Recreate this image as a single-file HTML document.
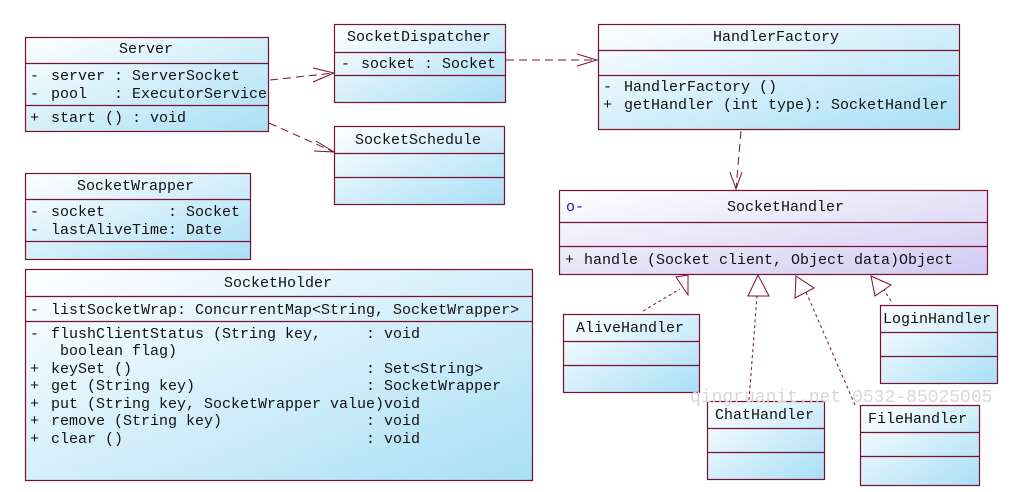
<!DOCTYPE html>
<html><head><meta charset="utf-8"><style>
html,body{margin:0;padding:0;background:#fff;width:1010px;height:492px;overflow:hidden}
svg text{font-family:"Liberation Mono",monospace;font-size:15px;fill:#111;white-space:pre}
</style></head><body>
<svg width="1010" height="492" xmlns="http://www.w3.org/2000/svg" xml:space="preserve">
<defs>
<linearGradient id="b" x1="0" y1="0" x2="1" y2="1"><stop offset="0" stop-color="#ffffff"/><stop offset="1" stop-color="#a9dff6"/></linearGradient>
<linearGradient id="p" x1="0" y1="0" x2="1" y2="1"><stop offset="0" stop-color="#ffffff"/><stop offset="1" stop-color="#d2caf2"/></linearGradient>
</defs>
<g stroke="#7a1030" stroke-width="1.2" fill="url(#b)">
<rect x="25.5" y="37.5" width="243" height="94"/><path d="M25 63.5H268M25 105.5H268"/>
<rect x="334.5" y="24.5" width="171" height="78"/><path d="M334 52.5H505M334 75.5H505"/>
<rect x="334.5" y="126.5" width="170" height="78"/><path d="M334 153.5H504M334 177.5H504"/>
<rect x="25.5" y="173.5" width="225" height="86"/><path d="M25 199.5H250M25 241.5H250"/>
<rect x="25.5" y="269.5" width="507" height="211"/><path d="M25 296.5H532M25 321.5H532"/>
<rect x="598.5" y="24.5" width="361" height="105"/><path d="M598 50.5H959M598 75.5H959"/>
<rect x="559.5" y="190.5" width="428" height="84" fill="url(#p)"/><path d="M559 222.5H987M559 246.5H987"/>
<rect x="563.5" y="314.5" width="136" height="78"/><path d="M563 341.5H699M563 365.5H699"/>
<rect x="880.5" y="305.5" width="117" height="78"/><path d="M880 332.5H997M880 356.5H997"/>
<rect x="707.5" y="401.5" width="117" height="78"/><path d="M707 428.5H824M707 452.5H824"/>
<rect x="860.5" y="405.5" width="119" height="80"/><path d="M860 432.5H979M860 456.5H979"/>
</g>
<g stroke="#7a1030" stroke-width="1" fill="none">
<path d="M270 80L334 73" stroke-dasharray="8,5"/><path d="M313 68L334 73L313 82"/>
<path d="M269 123L334 152" stroke-dasharray="8,5"/><path d="M316 141L334 152L314 151"/>
<path d="M506 60L597 60" stroke-dasharray="8,5"/><path d="M577 54L597 60L577 66"/>
<path d="M741 131L736 189" stroke-dasharray="8,5"/><path d="M730 172L736 189L742 172"/>
<path d="M643 311L680 289" stroke-dasharray="3,3"/><path d="M676 277L688 275L688 295Z" fill="#fff"/>
<path d="M749 400L757 296" stroke-dasharray="3,3"/><path d="M748 296L758 275L769 296Z" fill="#fff"/>
<path d="M855 405L806 292" stroke-dasharray="3,3"/><path d="M796 276L795 298L814 288Z" fill="#fff"/>
<path d="M891 301L884 290" stroke-dasharray="3,3"/><path d="M871 276L875 296L891 285Z" fill="#fff"/>
</g>
<text x="119" y="53">Server</text>
<text x="30" y="80">-</text><text x="51" y="80">server : ServerSocket</text>
<text x="30" y="98">-</text><text x="51" y="98">pool   : ExecutorService</text>
<text x="30" y="122">+</text><text x="51" y="122">start () : void</text>
<text x="347" y="41">SocketDispatcher</text>
<text x="341" y="68">-</text><text x="361" y="68">socket : Socket</text>
<text x="355" y="144">SocketSchedule</text>
<text x="77" y="190">SocketWrapper</text>
<text x="30" y="216">-</text><text x="51" y="216">socket       : Socket</text>
<text x="30" y="234">-</text><text x="51" y="234">lastAliveTime: Date</text>
<text x="224" y="287">SocketHolder</text>
<text x="30" y="314">-</text><text x="51" y="314">listSocketWrap: ConcurrentMap&lt;String, SocketWrapper&gt;</text>
<text x="30" y="338">-</text><text x="51" y="338">flushClientStatus (String key,     : void</text>
<text x="51" y="355"> boolean flag)</text>
<text x="30" y="373">+</text><text x="51" y="373">keySet ()                          : Set&lt;String&gt;</text>
<text x="30" y="390">+</text><text x="51" y="390">get (String key)                   : SocketWrapper</text>
<text x="30" y="408">+</text><text x="51" y="408">put (String key, SocketWrapper value)void</text>
<text x="30" y="425">+</text><text x="51" y="425">remove (String key)                : void</text>
<text x="30" y="443">+</text><text x="51" y="443">clear ()                           : void</text>
<text x="713" y="41">HandlerFactory</text>
<text x="603" y="91">-</text><text x="624" y="91">HandlerFactory ()</text>
<text x="603" y="109">+</text><text x="624" y="109">getHandler (int type): SocketHandler</text>
<text x="727" y="211">SocketHandler</text>
<text x="566" y="211" style="fill:#2020a0">o-</text>
<text x="565" y="264">+</text><text x="584" y="264">handle (Socket client, Object data)Object</text>
<text x="576" y="332">AliveHandler</text>
<text x="883" y="323">LoginHandler</text>
<text x="715" y="419">ChatHandler</text>
<text x="868" y="423">FileHandler</text>
<text x="690" y="402" style="fill:#d8d8d8;font-size:18px">qingruanit.net 0532-85025005</text>
</svg>
</body></html>
